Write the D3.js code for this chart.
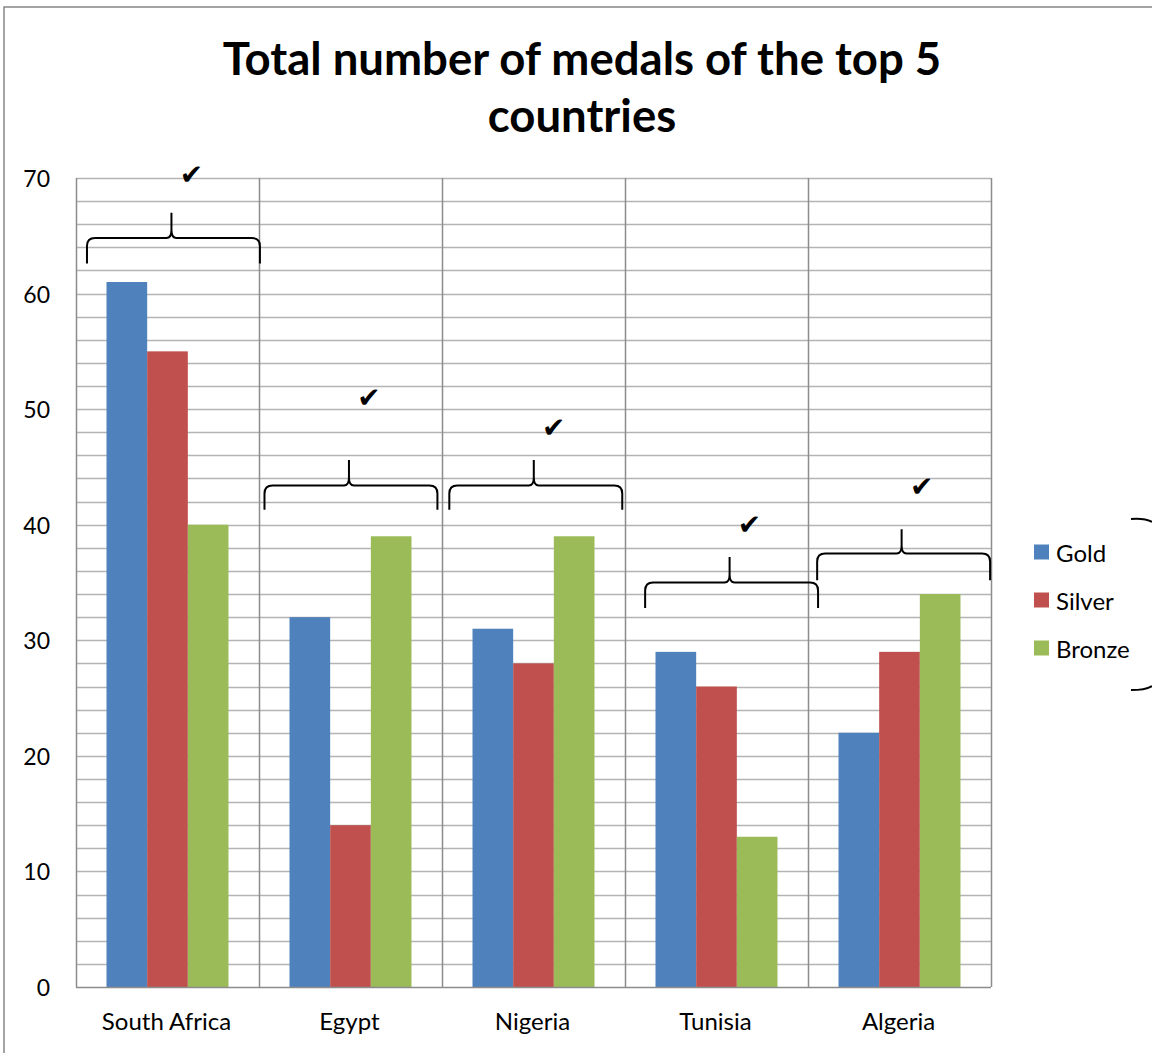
<!DOCTYPE html>
<html>
<head>
<meta charset="utf-8">
<script src="https://cdn.jsdelivr.net/npm/d3@7"></script>
<style>
  html, body { margin: 0; padding: 0; background: #fff; }
  svg { display: block; }
</style>
</head>
<body>
<div id="container"></div>
<script>
// ---------------------------------------------------------------------------
// Data
// ---------------------------------------------------------------------------
const countries = ['South Africa', 'Egypt', 'Nigeria', 'Tunisia', 'Algeria'];
const seriesNames = ['Gold', 'Silver', 'Bronze'];
const gold   = [61, 32, 31, 29, 22];
const silver = [55, 14, 28, 26, 29];
const bronze = [40, 39, 39, 13, 34];
const yTicks = [0, 10, 20, 30, 40, 50, 60, 70];

// hand-drawn marks: brace level, brace peak, check level (value units), shift (fraction of band)
const braceLevel = [64.8, 43.4, 43.4, 35.0, 37.5];
const bracePeak  = [67.0, 45.6, 45.6, 37.2, 39.6];
const braceTip   = [62.6, 41.3, 41.3, 32.8, 35.2];
const checkLevel = [70.3, 51.0, 48.4, 40.0, 43.3];
const braceShift = [0.06, 0.03, 0.04, 0.11, 0.05];

const colors = ['#4F81BD', '#C0504D', '#9BBB59'];
const FONT = 'Lato, "Open Sans", Arial, sans-serif';

// ---------------------------------------------------------------------------
// Layout
// ---------------------------------------------------------------------------
const W = 1152, H = 1053;
const plot = { left: 76, right: 991, top: 178, bottom: 987 };

const svg = d3.select('#container').append('svg')
  .attr('width', W).attr('height', H);

// outer chart border (only left & top visible)
svg.append('path')
  .attr('d', `M4,${H} L4,7 L${W},7`)
  .attr('fill', 'none').attr('stroke', '#868686').attr('stroke-width', 1.5);

const x = d3.scaleBand().domain(countries).range([plot.left, plot.right]);
// Excel gap width 150%: bar = band / 4.5, group centred
const barW = x.bandwidth() / 4.5;
const groupOff = (x.bandwidth() - barW * 3) / 2;

const y = d3.scaleLinear().domain([0, 70]).range([plot.bottom, plot.top]);

// ---------------------------------------------------------------------------
// Grid
// ---------------------------------------------------------------------------
const minor = d3.range(2, 71, 2);
svg.append('g').selectAll('line').data(minor).join('line')
  .attr('x1', plot.left).attr('x2', plot.right)
  .attr('y1', d => Math.round(y(d)) + 0.5).attr('y2', d => Math.round(y(d)) + 0.5)
  .attr('stroke', '#b4b4b4').attr('stroke-width', 1.5);

svg.append('g').selectAll('line').data(countries).join('line')
  .attr('x1', d => Math.round(x(d) + x.bandwidth()) + 0.5)
  .attr('x2', d => Math.round(x(d) + x.bandwidth()) + 0.5)
  .attr('y1', plot.top).attr('y2', plot.bottom)
  .attr('stroke', '#8c8c8c').attr('stroke-width', 1.5);

// ---------------------------------------------------------------------------
// Bars
// ---------------------------------------------------------------------------
const seriesData = [gold, silver, bronze];
seriesData.forEach((vals, s) => {
  svg.append('g').selectAll('rect').data(vals).join('rect')
    .attr('x', (d, i) => x(countries[i]) + groupOff + s * barW)
    .attr('y', d => y(d))
    .attr('width', barW)
    .attr('height', d => y(0) - y(d))
    .attr('fill', colors[s]);
});

// axes lines
svg.append('line')
  .attr('x1', plot.left + 0.5).attr('x2', plot.left + 0.5)
  .attr('y1', plot.top).attr('y2', plot.bottom)
  .attr('stroke', '#8c8c8c').attr('stroke-width', 1.5);
svg.append('line')
  .attr('x1', plot.left).attr('x2', plot.right)
  .attr('y1', plot.bottom + 0.5).attr('y2', plot.bottom + 0.5)
  .attr('stroke', '#8c8c8c').attr('stroke-width', 1.5);

// ---------------------------------------------------------------------------
// Tick labels
// ---------------------------------------------------------------------------
svg.append('g').selectAll('text').data(yTicks).join('text')
  .attr('x', 50).attr('y', d => y(d))
  .attr('text-anchor', 'end').attr('dominant-baseline', 'central')
  .attr('font-family', FONT).attr('font-size', 23).attr('fill', '#000')
  .text(d => d);

svg.append('g').selectAll('text').data(countries).join('text')
  .attr('x', d => x(d) + x.bandwidth() / 2 - 1).attr('y', 1030)
  .attr('text-anchor', 'middle')
  .attr('font-family', FONT).attr('font-size', 24).attr('fill', '#000')
  .text(d => d);

// ---------------------------------------------------------------------------
// Title
// ---------------------------------------------------------------------------
const title = svg.append('text')
  .attr('text-anchor', 'middle')
  .attr('font-family', FONT).attr('font-weight', 'bold').attr('font-size', 45.5)
  .attr('fill', '#000');
title.append('tspan').attr('x', 582).attr('y', 75).text('Total number of medals of the top 5');
title.append('tspan').attr('x', 582).attr('y', 132).text('countries');

// ---------------------------------------------------------------------------
// Legend
// ---------------------------------------------------------------------------
const legend = svg.append('g');
seriesNames.forEach((name, i) => {
  const ly = 552 + i * 48;
  legend.append('rect')
    .attr('x', 1034).attr('y', ly - 7.5).attr('width', 15).attr('height', 15)
    .attr('fill', colors[i]);
  legend.append('text')
    .attr('x', 1056).attr('y', ly).attr('dominant-baseline', 'central')
    .attr('font-family', FONT).attr('font-size', 24).attr('fill', '#000')
    .text(name);
});

// ---------------------------------------------------------------------------
// Hand-drawn annotations: braces and ticks
// ---------------------------------------------------------------------------
function bracePath(x0, x1, yH, yTop, yTip) {
  const xm = (x0 + x1) / 2 - 2;
  const r = 8;
  return `M${x0},${yTip} L${x0},${yH + r} Q${x0},${yH} ${x0 + r},${yH}` +
    ` L${xm - 5},${yH} Q${xm},${yH} ${xm},${yH - 8} L${xm},${yTop}` +
    ` M${xm},${yH - 8} Q${xm},${yH} ${xm + 5},${yH} L${x1 - r},${yH}` +
    ` Q${x1},${yH} ${x1},${yH + r} L${x1},${yTip}`;
}

const ann = svg.append('g');
countries.forEach((c, i) => {
  const shift = braceShift[i] * x.bandwidth();
  const x0 = x(c) + shift;
  const x1 = x0 + x.bandwidth() * 0.945;
  ann.append('path')
    .attr('d', bracePath(x0, x1, y(braceLevel[i]), y(bracePeak[i]), y(braceTip[i])))
    .attr('fill', 'none').attr('stroke', '#000').attr('stroke-width', 2)
    .attr('stroke-linejoin', 'round');
  ann.append('text')
    .attr('x', (x0 + x1) / 2 + 18).attr('y', y(checkLevel[i]))
    .attr('text-anchor', 'middle').attr('dominant-baseline', 'central')
    .attr('font-family', '"DejaVu Sans", sans-serif').attr('font-size', 28)
    .attr('fill', '#000')
    .text('\u2714');
});

// legend bracket
ann.append('path')
  .attr('d', 'M1131,519 Q1145,518 1152,522')
  .attr('fill', 'none').attr('stroke', '#000').attr('stroke-width', 2);
ann.append('path')
  .attr('d', 'M1131,690 Q1145,690 1152,686')
  .attr('fill', 'none').attr('stroke', '#000').attr('stroke-width', 2);
</script>
</body>
</html>
